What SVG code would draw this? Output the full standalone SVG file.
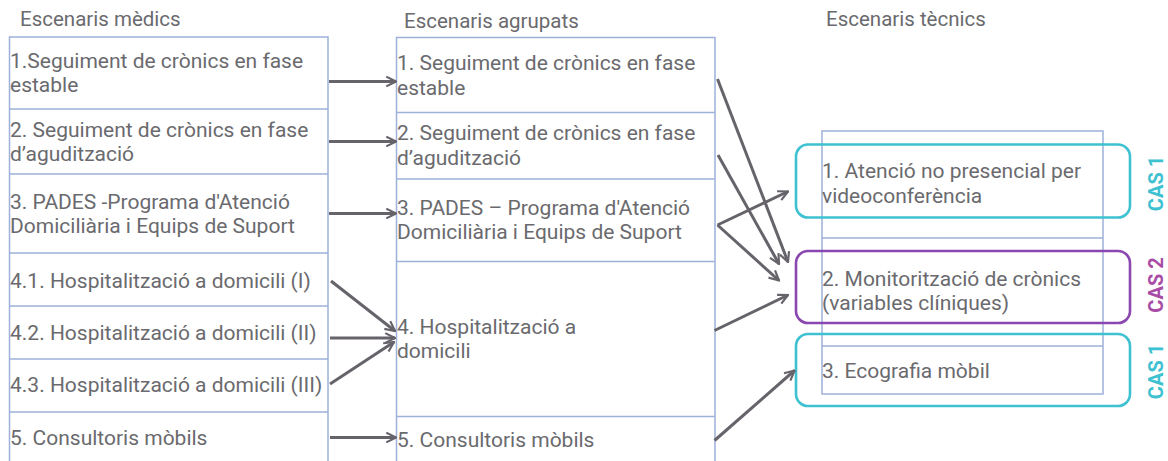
<svg xmlns="http://www.w3.org/2000/svg" width="1168" height="461" viewBox="0 0 1168 461">
<defs>
<style>
.t{font-family:Roboto,"Liberation Sans",sans-serif;font-size:21px;fill:#6a6a6e}
.h{font-family:Roboto,"Liberation Sans",sans-serif;font-size:20.5px;fill:#6a6a6e}
.cell{fill:#fff;stroke:#9eb1da;stroke-width:1.5}
.div{stroke:#9eb1da;stroke-width:1.5}
.cas{font-family:Roboto,"Liberation Sans",sans-serif;font-size:20px;font-weight:bold}
.c1{fill:none;stroke:#3ec1d0;stroke-width:2.6}
.c2{fill:none;stroke:#8a47b0;stroke-width:2.6}
.ar{stroke:#66636b;stroke-width:3;fill:none;marker-end:url(#ah)}
</style>
<marker id="ah" viewBox="0 0 12 12" refX="11" refY="6" markerWidth="13" markerHeight="13" markerUnits="userSpaceOnUse" orient="auto">
<path d="M2,1.5 L11,6 L2,10.5" fill="none" stroke="#66636b" stroke-width="2"/>
</marker>
</defs>
<rect width="1168" height="461" fill="#fff"/>

<text class="h" x="20" y="26">Escenaris mèdics</text>
<text class="h" x="404" y="28">Escenaris agrupats</text>
<text class="h" x="826" y="26">Escenaris tècnics</text>

<g id="left">
<rect class="cell" x="9.5" y="37" width="318.5" height="440"/>
<line class="div" x1="9.5" y1="109" x2="328" y2="109"/>
<line class="div" x1="9.5" y1="174" x2="328" y2="174"/>
<line class="div" x1="9.5" y1="253" x2="328" y2="253"/>
<line class="div" x1="9.5" y1="306" x2="328" y2="306"/>
<line class="div" x1="9.5" y1="359" x2="328" y2="359"/>
<line class="div" x1="9.5" y1="412" x2="328" y2="412"/>
</g>
<g id="m1"><text class="t" x="10" y="68">1.Seguiment de crònics en fase</text><text class="t" x="10" y="92">estable</text></g>
<g id="m2"><text class="t" x="10" y="137">2. Seguiment de crònics en fase</text><text class="t" x="10" y="161">d’agudització</text></g>
<g id="m3"><text class="t" x="10" y="209">3. PADES -Programa d'Atenció</text><text class="t" x="10" y="233">Domiciliària i Equips de Suport</text></g>
<g id="m41"><text class="t" x="10" y="288">4.1. Hospitalització a domicili (I)</text></g>
<g id="m42"><text class="t" x="10" y="340">4.2. Hospitalització a domicili (II)</text></g>
<g id="m43"><text class="t" x="10" y="392">4.3. Hospitalització a domicili (III)</text></g>
<g id="m5"><text class="t" x="10" y="445">5. Consultoris mòbils</text></g>

<g id="mid">
<rect class="cell" x="396.5" y="37.5" width="318.5" height="440"/>
<line class="div" x1="396.5" y1="112.5" x2="715" y2="112.5"/>
<line class="div" x1="396.5" y1="179" x2="715" y2="179"/>
<line class="div" x1="396.5" y1="261.5" x2="715" y2="261.5"/>
<line class="div" x1="396.5" y1="416.5" x2="715" y2="416.5"/>
</g>
<g id="a1"><text class="t" x="397" y="70">1. Seguiment de crònics en fase</text><text class="t" x="397" y="95">estable</text></g>
<g id="a2"><text class="t" x="397" y="140">2. Seguiment de crònics en fase</text><text class="t" x="397" y="165">d’agudització</text></g>
<g id="a3"><text class="t" x="397" y="215">3. PADES – Programa d'Atenció</text><text class="t" x="397" y="239">Domiciliària i Equips de Suport</text></g>
<g id="a4"><text class="t" x="397" y="334">4. Hospitalització a</text><text class="t" x="397" y="358">domicili</text></g>
<g id="a5"><text class="t" x="397" y="447">5. Consultoris mòbils</text></g>

<g id="tech">
<rect class="cell" x="822" y="131" width="281" height="263"/>
<line class="div" x1="822" y1="238" x2="1103" y2="238"/>
<line class="div" x1="822" y1="346" x2="1103" y2="346"/>
</g>
<g id="t1"><rect class="c1" x="796" y="144.5" width="334" height="73" rx="12"/><text class="t" x="822" y="178">1. Atenció no presencial per</text><text class="t" x="822" y="203">videoconferència</text></g>
<g id="t2"><rect class="c2" x="796" y="251" width="334" height="72" rx="12"/><text class="t" x="822" y="286">2. Monitorització de crònics</text><text class="t" x="822" y="310">(variables clíniques)</text></g>
<g id="t3"><rect class="c1" x="796" y="334" width="334" height="72" rx="12"/><text class="t" x="822" y="378">3. Ecografia mòbil</text></g>

<g id="cas1a"><text class="cas" fill="#3ec1d0" transform="translate(1163,183.5) rotate(-90)" text-anchor="middle">CAS 1</text></g>
<g id="cas2"><text class="cas" fill="#a84ca6" transform="translate(1163,285) rotate(-90)" text-anchor="middle">CAS 2</text></g>
<g id="cas1b"><text class="cas" fill="#3ec1d0" transform="translate(1163,371.5) rotate(-90)" text-anchor="middle">CAS 1</text></g>

<g id="connectors">
<line class="ar" x1="329" y1="81.5" x2="396" y2="81.5"/>
<line class="ar" x1="329" y1="141.5" x2="396" y2="141.5"/>
<line class="ar" x1="329" y1="213.5" x2="396" y2="213.5"/>
<line class="ar" x1="331" y1="281" x2="395" y2="331"/>
<line class="ar" x1="330" y1="338" x2="395" y2="338"/>
<line class="ar" x1="330" y1="384" x2="394" y2="342"/>
<line class="ar" x1="330" y1="437.5" x2="396" y2="437.5"/>
<line class="ar" x1="717.5" y1="79" x2="788" y2="262"/>
<line class="ar" x1="718" y1="155" x2="779" y2="264"/>
<line class="ar" x1="717.5" y1="225" x2="779" y2="280.5"/>
<line class="ar" x1="717.5" y1="225" x2="788" y2="191.5"/>
<line class="ar" x1="714.5" y1="330.5" x2="788" y2="295"/>
<line class="ar" x1="714.5" y1="440.5" x2="794.5" y2="370.5"/>
</g>
</svg>
